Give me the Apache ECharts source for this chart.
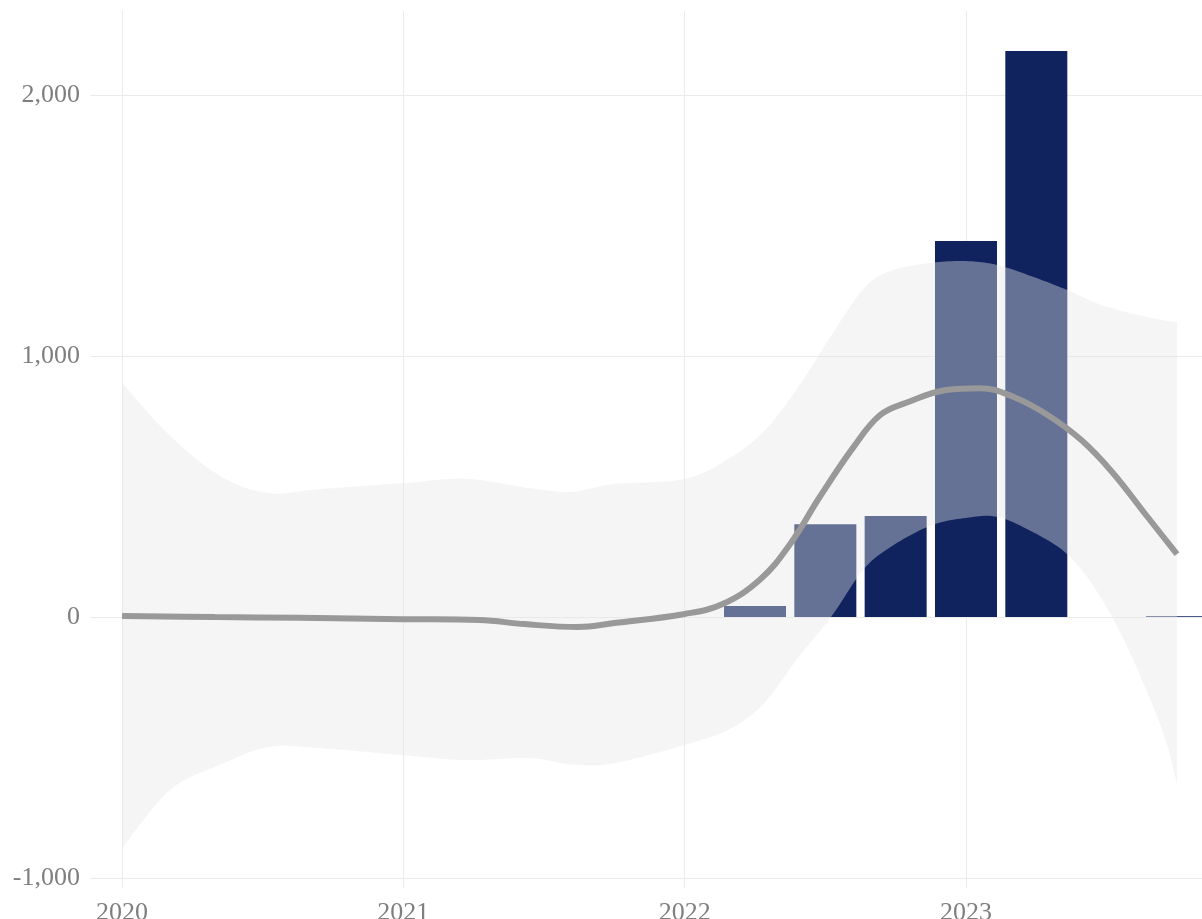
<!DOCTYPE html>
<html>
<head>
<meta charset="utf-8">
<script src="https://cdn.jsdelivr.net/npm/echarts@6/dist/echarts.min.js"></script>
<style>
  html, body { margin: 0; padding: 0; background: #ffffff; }
  #chart { width: 1202px; height: 919px; }
</style>
</head>
<body>
<div id="chart"></div>
<script>
// ---- data ----
const xTickValues = [2020, 2021, 2022, 2023];
const yTickValues = [-1000, 0, 1000, 2000];

const barX = [2022.25, 2022.5, 2022.75, 2023.0, 2023.25, 2023.75];
const barValues = [42, 356, 387, 1441, 2169, 3];

const trendX = [2020.0, 2020.33, 2020.63, 2021.0, 2021.27, 2021.43, 2021.62, 2021.75, 2022.0, 2022.135, 2022.27, 2022.375, 2022.48, 2022.6, 2022.695, 2022.79, 2022.93, 2023.05, 2023.17, 2023.29, 2023.41, 2023.52, 2023.64, 2023.75];
const trendValues = [4, 0, -3, -8, -11, -27, -38, -23, 12, 50, 146, 280, 460, 651, 774, 822, 870, 877, 843, 774, 678, 555, 391, 241];

const bandX = [2020.0, 2020.17, 2020.35, 2020.52, 2020.7, 2021.0, 2021.22, 2021.45, 2021.6, 2021.75, 2022.0, 2022.16, 2022.28, 2022.4, 2022.52, 2022.63, 2022.72, 2022.87, 2023.0, 2023.11, 2023.23, 2023.36, 2023.47, 2023.58, 2023.7, 2023.75];
const bandUpper = [897, 695, 540, 475, 490, 513, 530, 494, 480, 510, 529, 609, 710, 875, 1077, 1250, 1322, 1356, 1364, 1349, 1307, 1253, 1200, 1165, 1138, 1130];
const bandLower = [-885, -663, -565, -498, -502, -529, -548, -540, -565, -560, -490, -429, -333, -160, 0, 175, 260, 349, 380, 384, 330, 241, 90, -130, -440, -640];

// ---- build series data ----
const barData = barX.map((x, i) => [x, barValues[i]]);
const trendData = trendX.map((x, i) => [x, trendValues[i]]);
const bandData = bandX.map((x, i) => [x, bandLower[i], bandUpper[i]]);

// Catmull-Rom sampling of pixel points (rendering only)
function smoothPts(pts, steps) {
  const out = [];
  const n = pts.length;
  for (let i = 0; i < n - 1; i++) {
    const p0 = pts[Math.max(0, i - 1)], p1 = pts[i], p2 = pts[i + 1], p3 = pts[Math.min(n - 1, i + 2)];
    for (let s = 0; s < steps; s++) {
      const t = s / steps, t2 = t * t, t3 = t2 * t;
      const f = (a, b, c, d) => 0.5 * ((2 * b) + (-a + c) * t + (2 * a - 5 * b + 4 * c - d) * t2 + (-a + 3 * b - 3 * c + d) * t3);
      out.push([f(p0[0], p1[0], p2[0], p3[0]), f(p0[1], p1[1], p2[1], p3[1])]);
    }
  }
  out.push(pts[n - 1]);
  return out;
}

const FONT = '"Liberation Serif", "DejaVu Serif", serif';
const chart = echarts.init(document.getElementById('chart'), null, { renderer: 'canvas' });

chart.setOption({
  backgroundColor: '#ffffff',
  animation: false,
  grid: { left: 90, right: 0, top: 11, bottom: 31, containLabel: false, outerBoundsMode: 'none' },
  xAxis: {
    type: 'value',
    min: 2019.886,
    max: 2023.839,
    axisLine: { show: false },
    axisTick: { show: false, customValues: xTickValues },
    axisLabel: {
      customValues: xTickValues,
      formatter: v => String(Math.round(v)),
      fontFamily: FONT, fontSize: 26, color: '#7f7f7f', margin: 12
    },
    splitLine: { show: true, lineStyle: { color: '#ebebeb', width: 1 } }
  },
  yAxis: {
    type: 'value',
    min: -1038,
    max: 2322,
    axisLine: { show: false },
    axisTick: { show: false, customValues: yTickValues },
    axisLabel: {
      customValues: yTickValues,
      formatter: v => Number(v).toLocaleString('en-US'),
      fontFamily: FONT, fontSize: 26, color: '#7f7f7f', margin: 10
    },
    splitLine: { show: true, lineStyle: { color: '#ebebeb', width: 1 } }
  },
  series: [
    {
      type: 'bar',
      data: barData,
      barWidth: 62,
      itemStyle: { color: '#10235f' },
      z: 2
    },
    {
      type: 'custom',
      data: bandData,
      encode: { x: 0, y: [1, 2] },
      z: 3,
      silent: true,
      renderItem: function (params, api) {
        if (params.dataIndex !== 0) return null;
        const up = bandData.map(d => api.coord([d[0], d[2]]));
        const lo = bandData.map(d => api.coord([d[0], d[1]]));
        const upS = smoothPts(up, 12);
        const loS = smoothPts(lo, 12).reverse();
        return {
          type: 'polygon',
          shape: { points: upS.concat(loS) },
          style: { fill: '#e6e6e6', opacity: 0.4 }
        };
      }
    },
    {
      type: 'line',
      data: trendData,
      smooth: 0.4,
      symbol: 'none',
      lineStyle: { color: '#999999', width: 6, cap: 'butt' },
      z: 4
    }
  ]
});
</script>
</body>
</html>
